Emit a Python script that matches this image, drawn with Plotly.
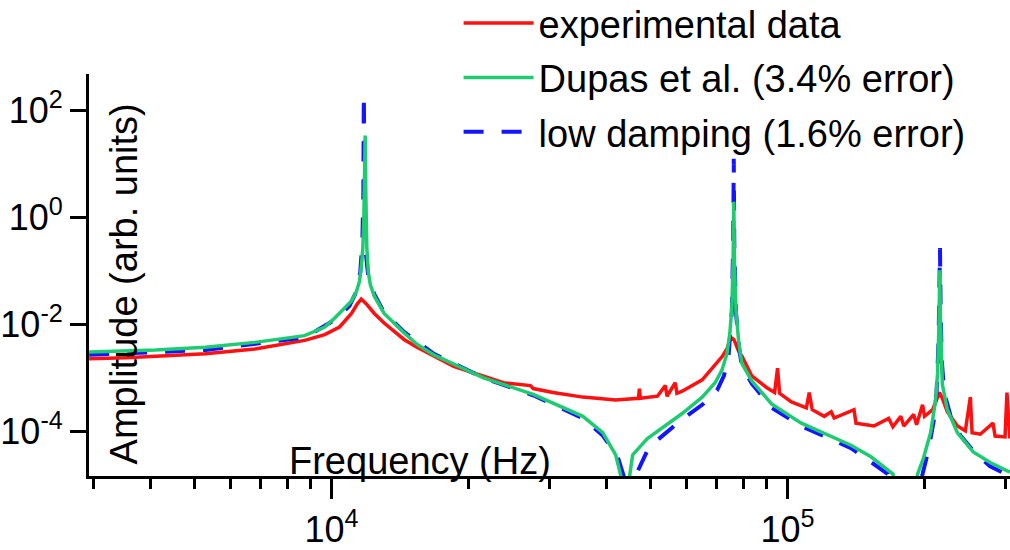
import plotly.graph_objects as go

# ---------------- data ----------------
red_f = [2940, 3540, 4330, 5285, 6790, 8730, 9660, 10410, 11060, 11390,
         11620, 11920, 12410, 13040, 14420, 15390, 18530, 21540, 23820, 27300,
         27680, 30600, 35580, 41990, 47100, 47330, 47560, 51840, 53950, 54420,
         56730, 57200, 58750, 64990, 69380, 71810, 73630, 75110, 76250, 78250,
         79400, 83500, 89950, 93700, 95100, 96100, 102000, 110000, 111600, 113300,
         120400, 124700, 126600, 139900, 141300, 154700, 166700, 170300, 177200, 179900,
         189100, 191900, 197800, 199800, 208100, 213400, 215400, 218600, 224200, 235900,
         245500, 251800, 254000, 264700, 282300, 285300, 300000, 302900, 307400]
red_a = [2.31e-3, 2.40e-3, 2.61e-3, 2.84e-3, 3.49e-3, 5.06e-3, 6.5e-3, 9.0e-3, 0.0161, 0.0243,
         0.0299, 0.0243, 0.0161, 0.01065, 5.27e-3, 3.78e-3, 1.66e-3, 1.10e-3, 8.2e-4, 7.26e-4,
         6.4e-4, 5.4e-4, 4.43e-4, 3.91e-4, 4.2e-4, 6.4e-4, 4.2e-4, 4.6e-4, 7.26e-4, 4.6e-4,
         8.2e-4, 5.2e-4, 5.7e-4, 9.3e-4, 1.73e-3, 2.5e-3, 3.49e-3, 5.73e-3, 5.27e-3, 3.08e-3,
         2.61e-3, 1.10e-3, 6.7e-4, 5.4e-4, 1.53e-3, 5.2e-4, 3.6e-4, 2.8e-4, 5.4e-4, 2.58e-4,
         1.94e-4, 2.35e-4, 1.80e-4, 2.58e-4, 1.45e-4, 1.28e-4, 1.78e-4, 1.24e-4, 1.94e-4, 1.28e-4,
         2.1e-4, 1.35e-4, 3.2e-4, 1.94e-4, 2.58e-4, 4.43e-4, 5.4e-4, 4.2e-4, 2.35e-4, 1.28e-4,
         1.04e-4, 4.43e-4, 9.6e-5, 9.0e-5, 1.45e-4, 8.3e-5, 8.0e-5, 5.4e-4, 7.5e-5]

green_f = [2940, 4110, 5285, 6790, 8730, 9660, 10150, 10670, 11060, 11340,
           11510, 11620, 11710, 11770, 11820, 11850, 11890, 11950, 12040, 12160,
           12410, 13040, 14420, 15390, 16760, 18530, 21540, 27680, 35580, 39340,
           41990, 43100, 43950, 45060, 45740, 49270, 58750, 64990, 69380, 71810,
           73630, 74700, 75500, 75970, 76230, 76500, 77100, 78250, 79400, 83500,
           92250, 107200, 137800, 152400, 170300, 177200, 181600, 188000, 192900, 198800,
           206000, 211300, 213400, 215000, 215700, 216500, 217500, 218600, 224200, 235900,
           255500, 278200, 307400]
green_a = [3.08e-3, 3.35e-3, 3.78e-3, 4.65e-3, 6.2e-3, 9.0e-3, 1.31e-2, 1.98e-2, 2.75e-2, 4.16e-2,
           6.3e-2, 0.117, 0.267, 0.92, 5.9, 33.5, 2.6, 0.267, 0.095, 0.0555,
           0.0338, 0.0161, 7.05e-3, 4.28e-3, 2.72e-3, 1.80e-3, 1.01e-3, 5.0e-4, 1.94e-4, 9.6e-5,
           3.7e-5, 1.5e-5, 1e-6, 1.5e-5, 3.7e-5, 7.5e-5, 2.19e-4, 4.43e-4, 8.2e-4, 1.41e-3,
           2.84e-3, 6.5e-3, 0.0206, 0.144, 1.94, 0.144, 0.0182, 4.28e-3, 1.88e-3, 8.9e-4,
           3.31e-4, 1.45e-4, 5.6e-5, 3.42e-5, 1.63e-5, 3e-6, 1e-6, 3e-6, 1.63e-5, 3.27e-5,
           9.6e-5, 3.91e-4, 1.24e-3, 0.0121, 0.103, 0.0121, 1.53e-3, 7.6e-4, 2.59e-4, 9.6e-5,
           4.2e-5, 2.67e-5, 1.77e-5]

blue_f = [2940, 5285, 8730, 10150, 10950, 11340, 11560, 11680, 11740, 11770,
          11820, 11890, 12040, 12410, 13040, 14420, 16760, 21540, 27680, 35580,
          39340, 42420, 43720, 45060, 46400, 49700, 58750, 64990, 70070, 72530,
          74320, 75500, 76000, 76230, 76430, 77100, 78250, 79400, 83500, 92250,
          107200, 137800, 166000, 180500, 197800, 203800, 209200, 212300, 214500, 215400,
          216000, 216600, 217800, 220600, 228000, 239500, 258000, 278200, 307400]
blue_a = [2.72e-3, 3.35e-3, 5.73e-3, 0.0121, 0.0224, 0.0416, 0.095, 0.328, 2.6, 198,
          2.6, 0.217, 0.077, 0.0367, 0.0167, 7.3e-3, 2.84e-3, 1.01e-3, 4.8e-4, 1.78e-4,
          8.5e-5, 3.42e-5, 1.5e-5, 1e-6, 1.5e-5, 5.2e-5, 1.71e-4, 3.18e-4, 5.9e-4, 1.10e-3,
          2.84e-3, 0.0182, 0.328, 12.4, 0.328, 0.0167, 3.94e-3, 1.66e-3, 7.9e-4, 2.8e-4,
          1.28e-4, 4.95e-5, 1.63e-5, 1e-6, 1.63e-5, 4.56e-5, 1.57e-4, 5.4e-4, 5.3e-3, 0.0416,
          0.267, 0.0275, 2.31e-3, 5.4e-4, 1.94e-4, 8.5e-5, 4.0e-5, 2.26e-5, 1.5e-5]

series_names = ["experimental data", "Dupas et al. (3.4% error)", "low damping (1.6% error)"]

x_major_vals = [1e4, 1e5]
x_major_text = ["10<sup>4</sup>", "10<sup>5</sup>"]
x_minor_vals = [3000, 4000, 5000, 6000, 7000, 8000, 9000,
                20000, 30000, 40000, 50000, 60000, 70000, 80000, 90000,
                200000, 300000]
y_major_vals = [1e2, 1e0, 1e-2, 1e-4]
y_major_text = ["10<sup>2</sup>", "10<sup>0</sup>", "10<sup>-2</sup>", "10<sup>-4</sup>"]

x_title = "Frequency (Hz)"
y_title = "Amplitude (arb. units)"

# ---------------- figure ----------------
FONT = "Liberation Sans, Arial, sans-serif"
RED = "#ff1010"
GREEN = "#1ecb70"
BLUE = "#1414ff"
TXT = 38

fig = go.Figure()
fig.add_trace(go.Scatter(x=red_f, y=red_a, mode="lines", name=series_names[0],
                         line=dict(color=RED, width=3.5), legendgroup="a", legendrank=1))
fig.add_trace(go.Scatter(x=blue_f, y=blue_a, mode="lines", name=series_names[2],
                         line=dict(color=BLUE, width=4, dash="20px,18px"),
                         legendgroup="c", legendrank=3))
fig.add_trace(go.Scatter(x=green_f, y=green_a, mode="lines", name=series_names[1],
                         line=dict(color=GREEN, width=3.5), legendgroup="b", legendrank=2))

W, H = 1010, 550
L, R, T, B = 83, 0, 74, 58
pw, ph = W - L - R, H - T - B

fig.update_layout(
    width=W, height=H,
    margin=dict(l=L, r=R, t=T, b=B, pad=0),
    paper_bgcolor="white", plot_bgcolor="white",
    font=dict(family=FONT, size=36, color="black"),
    showlegend=True,
    legend=dict(x=(455 - L) / pw, xanchor="left", y=1 + T / ph, yanchor="top",
                bgcolor="rgba(0,0,0,0)", borderwidth=0, itemwidth=70,
                tracegroupgap=2, font=dict(size=TXT, family=FONT, color="black")),
    annotations=[
        dict(text=x_title, xref="paper", yref="paper",
             x=(416 - L) / pw, y=(492 - 476) / ph, xanchor="center", yanchor="middle",
             showarrow=False, font=dict(size=TXT, family=FONT, color="black")),
        dict(text=y_title, xref="paper", yref="paper", textangle=-90,
             x=(118 - L) / pw, y=(492 - 292) / ph, xanchor="center", yanchor="middle",
             showarrow=False, font=dict(size=TXT, family=FONT, color="black")),
    ],
)

fig.update_xaxes(type="log", range=[3.468, 5.488],
                 showgrid=False, zeroline=False,
                 showline=True, linecolor="black", linewidth=3,
                 ticks="outside", ticklen=20, tickwidth=3, tickcolor="black",
                 tickvals=x_major_vals, ticktext=x_major_text,
                 tickfont=dict(size=36, family=FONT, color="black"),
                 minor=dict(tickvals=x_minor_vals, ticks="outside", ticklen=10,
                            tickwidth=3, tickcolor="black", showgrid=False))
fig.update_yaxes(type="log", range=[-4.825, 2.673],
                 showgrid=False, zeroline=False,
                 showline=True, linecolor="black", linewidth=3,
                 ticks="outside", ticklen=16, tickwidth=3, tickcolor="black",
                 tickvals=y_major_vals, ticktext=y_major_text,
                 tickfont=dict(size=36, family=FONT, color="black"))

# nudge the legend block up a little (plotly keeps it inside the page otherwise)
post_js = r"""
var gd = document.getElementById('{plot_id}');
function nudgeLegend(){
  var lg = gd.querySelector('g.legend');
  if(!lg) return;
  var t = lg.getAttribute('transform') || '';
  if(lg.__nudged === t) return;
  var m = /translate\(\s*([-\d.eE]+)[ ,]+([-\d.eE]+)\s*\)/.exec(t);
  if(m){
    var nt = 'translate(' + m[1] + ',' + (parseFloat(m[2]) - 11) + ')';
    lg.setAttribute('transform', nt);
    lg.__nudged = nt;
  }
}
nudgeLegend();
if(gd.on){ gd.on('plotly_afterplot', nudgeLegend); }
"""

fig.write_html("out.html", post_script=post_js)
